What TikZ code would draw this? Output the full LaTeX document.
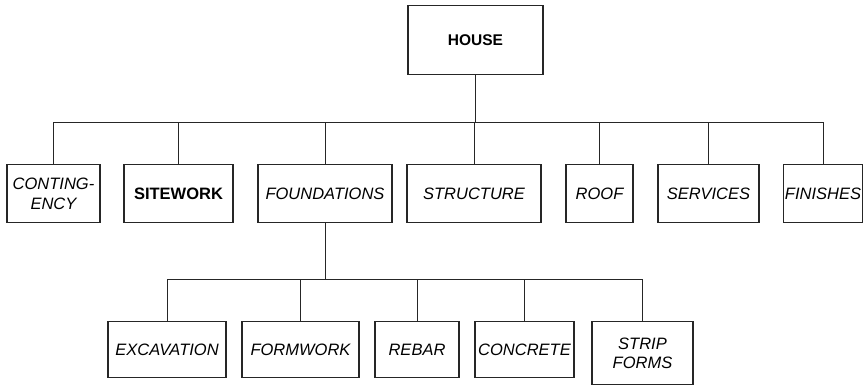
\documentclass[tikz,border=0pt]{standalone}
\usepackage{fontspec}
\setmainfont{Liberation Sans}
\usetikzlibrary{positioning}
\newcommand{\lineColor}{black!85}
\newcommand{\boxColor}{black!85}
\newcommand{\boxFont}{\fontsize{16.5}{19.5}\selectfont}
\tikzset{box/.style = {draw=\boxColor, line width=1.2pt, inner sep=0pt, align=center, anchor=north, font=\boxFont\itshape}}
\tikzset{boldbox/.style = {box, font=\boxFont\bfseries}}
\tikzset{link/.style = {\lineColor, line width=0.8pt}}
\tikzset{bus/.style = {\lineColor, line width=1.3pt}}

\begin{document}
\begin{tikzpicture}[x=1pt, y=-1pt]
    \useasboundingbox (0,0) rectangle (864,387);

    % top of the tree
    \node[boldbox, minimum width=135, minimum height=69, font=\fontsize{15.5}{18}\selectfont\bfseries] (house) at (475.5,5) {HOUSE};

    % first level
    \foreach \n/\x/\w/\s/\t in {cont/53.5/93/box/{CONTING-\\ENCY},
            site/178.5/109/boldbox/SITEWORK, found/325/134/box/FOUNDATIONS,
            struct/474/134/box/STRUCTURE, roof/599.5/67/box/ROOF,
            serv/708.5/101/box/SERVICES, fin/823/79/box/FINISHES}
    {
        \node[\s, minimum width=\w, minimum height=58] (\n) at (\x,164) {\t};
    }

    % second level, under foundations
    \foreach \n/\x/\w/\h/\t in {exc/167/118/56/EXCAVATION,
            form/300.5/117/56/FORMWORK, rebar/417/84/56/REBAR,
            conc/524.5/99/56/CONCRETE, strip/642.5/101/63/{STRIP\\FORMS}}
    {
        \node[box, minimum width=\w, minimum height=\h] (\n) at (\x,321) {\t};
    }

    % connectors
    \draw[link] (house.south) -- ++(0,47) coordinate (top);
    \draw[bus] (cont.north |- top) -- (fin.north |- top);
    \foreach \n in {cont, site, found, struct, roof, serv, fin}
        \draw[link] (\n.north) -- (\n.north |- top);

    \draw[link] (found.south) -- ++(0,56) coordinate (low);
    \draw[link] (exc.north |- low) -- (strip.north |- low);
    \foreach \n in {exc, form, rebar, conc, strip}
        \draw[link] (\n.north) -- (\n.north |- low);
\end{tikzpicture}
\end{document}
